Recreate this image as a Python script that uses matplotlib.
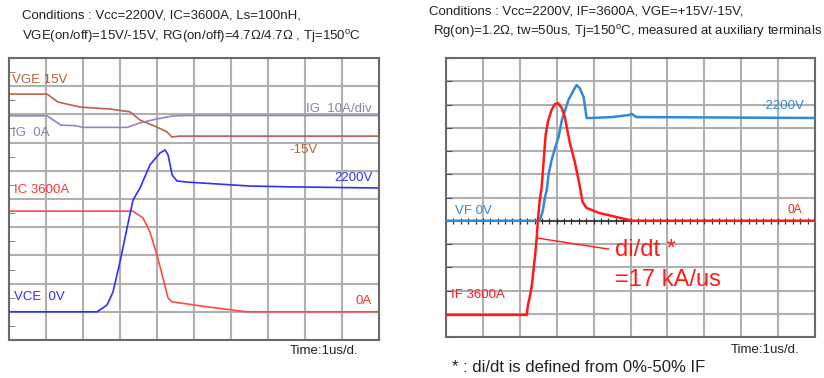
import numpy as np
import matplotlib.pyplot as plt

plt.rcParams['font.family'] = ['Liberation Sans', 'DejaVu Sans']

W, H = 824, 378

# ---- left: turn-off waveforms (x in us, y in scope divisions) ----
vge_t = [0, 1.03, 1.32, 1.92, 2.73, 3.27, 3.54, 4.0, 4.27, 4.4, 4.6, 10]
vge_v = [8.72, 8.72, 8.44, 8.26, 8.19, 8.09, 7.80, 7.55, 7.38, 7.2, 7.23, 7.23]

ig_t = [0, 1.03, 1.4, 1.8, 2.0, 3.2, 3.54, 4.0, 4.4, 4.8, 10]
ig_v = [7.95, 7.95, 7.62, 7.60, 7.54, 7.54, 7.70, 7.84, 7.94, 7.96, 7.96]

vce_t = [0, 2.38, 2.65, 2.81, 3.0, 3.19, 3.35, 3.54, 3.81, 4.08, 4.22, 4.30,
         4.41, 4.54, 4.81, 6.51, 7.59, 10]
vce_v = [1.0, 1.0, 1.24, 1.70, 2.77, 3.97, 4.96, 5.39, 6.21, 6.63, 6.74, 6.56,
         5.85, 5.64, 5.60, 5.46, 5.43, 5.39]

ic_t = [0, 3.35, 3.62, 3.81, 4.0, 4.16, 4.30, 4.41, 4.81, 5.16, 6.24, 6.43, 10]
ic_v = [4.57, 4.57, 4.33, 3.83, 3.01, 2.20, 1.49, 1.35, 1.28, 1.21, 1.03, 1.0, 1.0]

# ---- right: diode recovery waveforms ----
vf_t = [0, 2.54, 2.62, 2.68, 2.73, 2.78, 2.86, 2.95, 3.05, 3.14, 3.32, 3.46,
        3.54, 3.62, 3.73, 3.81, 3.95, 4.51, 4.97, 5.03, 5.16, 10]
vf_v = [5.0, 5.0, 5.4, 6.0, 6.32, 7.0, 7.6, 8.1, 8.6, 9.33, 10.2, 10.62,
        10.84, 10.71, 10.32, 9.42, 9.42, 9.46, 9.55, 9.6, 9.46, 9.42]

if_t = [0, 2.19, 2.22, 2.27, 2.32, 2.41, 2.46, 2.49, 2.54, 2.59, 2.70, 2.76,
        2.86, 2.95, 3.03, 3.14, 3.22, 3.35, 3.49, 3.62, 3.70, 3.81, 4.16,
        4.62, 5.05, 10]
if_v = [0.95, 0.95, 1.38, 1.72, 2.15, 3.44, 4.30, 5.03, 5.89, 6.41, 8.69, 9.25,
        9.76, 10.02, 10.06, 9.85, 9.46, 8.39, 7.53, 6.54, 5.81, 5.55, 5.33,
        5.16, 5.0, 5.0]

fig = plt.figure(figsize=(W / 100, H / 100), dpi=100)


def px(x, y):
    return x / W, 1 - y / H


def scope_axes(rect, ny, minor_left):
    ax = fig.add_axes(rect)
    ax.set_xlim(0, 10)
    ax.set_ylim(0, ny)
    ax.set_xticks(np.arange(0, 11))
    ax.set_yticks(np.arange(0, ny + 1))
    ax.grid(True, color='#b0b0b0', lw=1.5)
    ax.set_xticklabels([])
    ax.set_yticklabels([])
    ax.tick_params(length=0)
    if minor_left:
        ax.set_yticks(np.arange(0.5, ny, 1), minor=True)
        ax.tick_params(axis='y', which='minor', direction='in', length=4,
                       color='#707070', left=True, right=False)
    else:
        ax.tick_params(axis='y', which='major', direction='in', length=4,
                       color='#505050', left=True, right=False)
    ax.tick_params(axis='x', which='minor', bottom=False)
    for s in ax.spines.values():
        s.set_color('#6a6a6a')
        s.set_linewidth(1.5)
    return ax


# left panel
ax1 = scope_axes([9 / W, 38 / H, 370 / W, 282 / H], 10, True)
ax1.plot(vge_t, vge_v, color='#bf5f4f', lw=1.2)
ax1.plot(ig_t, ig_v, color='#9484c4', lw=1.2)
ax1.plot(ic_t, ic_v, color='#ff4848', lw=1.2)
ax1.plot(vce_t, vce_v, color='#2f2fff', lw=1.2)

fs = 9.5
ax1.text(0.08, 9.22, 'VGE 15V', color='#b5603c', fontsize=fs, va='center')
ax1.text(9.81, 8.19, 'IG  10A/div', color='#8a82ac', fontsize=fs, va='center', ha='right')
ax1.text(0.08, 7.34, 'IG  0A', color='#8a82ac', fontsize=fs, va='center')
ax1.text(7.97, 6.74, '-15V', color='#c0622e', fontsize=fs, va='center', ha='center')
ax1.text(9.84, 5.74, '2200V', color='#2f2fff', fontsize=fs, va='center', ha='right')
ax1.text(0.14, 5.32, 'IC 3600A', color='#ff3030', fontsize=fs, va='center')
ax1.text(0.14, 1.52, 'VCE  0V', color='#2f2fff', fontsize=fs, va='center')
ax1.text(9.81, 1.38, '0A', color='#ff3030', fontsize=fs, va='center', ha='right')

# right panel
ax2 = scope_axes([446 / W, 41 / H, 369 / W, 279 / H], 12, False)
ax2.axhline(5, color='#303030', lw=1.2, zorder=2)
ticks = np.arange(0.2, 10, 0.2)
ax2.plot(ticks, np.full(len(ticks), 5.0), ls='', marker='|', ms=5,
         color='#303030', mew=0.9, zorder=2)
ax2.plot(vf_t, vf_v, color='#2f8ad8', lw=1.8, zorder=3)
ax2.plot(if_t, if_v, color='#ff1a1a', lw=1.8, zorder=4)
ax2.plot([2.46, 4.41], [4.26, 3.78], color='#ff1a1a', lw=1.0, zorder=4)

ax2.text(9.70, 9.94, '-2200V', color='#2f8ad8', fontsize=fs, va='center', ha='right')
ax2.text(0.24, 5.42, 'VF 0V', color='#2f8ad8', fontsize=fs, va='center')
ax2.text(9.65, 5.46, '0A', color='#ff1a1a', fontsize=8.5, va='center', ha='right')
ax2.text(0.14, 1.81, 'IF 3600A', color='#ff1a1a', fontsize=fs, va='center')
ax2.text(4.57, 3.74, 'di/dt *', color='#ff1a1a', fontsize=17, va='center')
ax2.text(4.57, 2.45, '=17 kA/us', color='#ff1a1a', fontsize=17, va='center')

# headers and notes
tc = '#222222'
fig.text(*px(22, 16), 'Conditions : Vcc=2200V, IC=3600A, Ls=100nH,', fontsize=fs, color=tc, va='center')
fig.text(*px(22, 37), 'VGE(on/off)=15V/-15V, RG(on/off)=4.7\u03a9/4.7\u03a9 , Tj=150$^\\mathregular{o}$C',
         fontsize=fs, color=tc, va='center')
fig.text(*px(429, 12), 'Conditions : Vcc=2200V, IF=3600A, VGE=+15V/-15V,', fontsize=fs, color=tc, va='center')
fig.text(*px(433, 32), 'Rg(on)=1.2\u03a9, tw=50us, Tj=150$^\\mathregular{o}$C, measured at auxiliary terminals',
         fontsize=fs, color=tc, va='center')
fig.text(*px(290, 351), 'Time:1us/d.', fontsize=fs, color=tc, va='center')
fig.text(*px(731, 350), 'Time:1us/d.', fontsize=fs, color=tc, va='center')
fig.text(*px(452, 367), '* : di/dt is defined from 0%-50% IF', fontsize=12, color=tc, va='center')

fig.savefig('out.png', dpi=100)
